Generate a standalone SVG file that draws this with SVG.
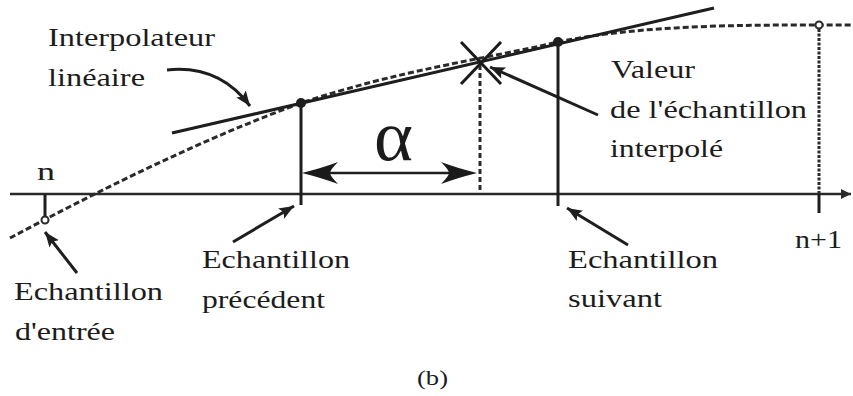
<svg xmlns="http://www.w3.org/2000/svg" width="853" height="396" viewBox="0 0 853 396">
<style>
text{font-family:"Liberation Serif","Times New Roman",serif;font-size:26px;fill:#1c1c1c}
.s{fill:none;stroke:#1e1e1e;stroke-width:3;stroke-linecap:butt}
.ax{fill:none;stroke:#2a2a2a;stroke-width:2.4}
.dash{fill:none;stroke:#2a2a2a;stroke-width:3;stroke-dasharray:6,3}
.fdash{fill:none;stroke:#2a2a2a;stroke-width:3;stroke-dasharray:3,1.5}
.arr{fill:none;stroke:#1e1e1e;stroke-width:3;marker-end:url(#ah)}
</style>
<defs>
<marker id="ah" markerWidth="18" markerHeight="14" refX="15" refY="6" orient="auto" markerUnits="userSpaceOnUse">
<path d="M0,0 L15,6 L0,12 L3,6 Z" fill="#1e1e1e"/>
</marker>
<marker id="axh" markerWidth="12" markerHeight="12" refX="10" refY="5" orient="auto" markerUnits="userSpaceOnUse">
<path d="M0,0 L10,5 L0,10 Z" fill="#2a2a2a"/>
</marker>
</defs>
<rect width="853" height="396" fill="#ffffff"/>

<g id="axis">
<line class="ax" x1="10" y1="194" x2="851" y2="194" marker-end="url(#axh)"/>
</g>

<g id="curve">
<path class="dash" d="M10,238 C100,190 200,140 301,103 C400,70 480,60 558,42 C640,25 740,25 819,25 L853,25"/>
</g>

<g id="interpolator-line">
<line class="s" x1="172" y1="133" x2="714" y2="8"/>
</g>

<g id="sample-n">
<line class="s" x1="45" y1="194" x2="45" y2="216.5"/>
<circle cx="45" cy="220" r="3.5" fill="#fff" stroke="#2a2a2a" stroke-width="2"/>
<text x="37" y="180" textLength="18" lengthAdjust="spacingAndGlyphs">n</text>
</g>

<g id="sample-prev">
<line class="s" x1="301" y1="103" x2="301" y2="205"/>
<circle cx="301" cy="103" r="5" fill="#1e1e1e"/>
</g>

<g id="sample-next">
<line class="s" x1="558" y1="42" x2="558" y2="206"/>
<circle cx="558" cy="42" r="5" fill="#1e1e1e"/>
</g>

<g id="sample-n1">
<line class="fdash" x1="819" y1="29" x2="819" y2="194"/>
<line class="s" x1="819" y1="194" x2="819" y2="213"/>
<circle cx="819" cy="25" r="3.5" fill="#fff" stroke="#2a2a2a" stroke-width="2"/>
<text x="795" y="248" textLength="47" lengthAdjust="spacingAndGlyphs">n+1</text>
</g>

<g id="interpolated">
<line class="fdash" x1="480" y1="65" x2="480" y2="194" style="stroke-dasharray:5,3"/>
<line x1="461" y1="42" x2="501" y2="84" stroke="#1a1a1a" stroke-width="3"/>
<line x1="501" y1="42" x2="461" y2="84" stroke="#1a1a1a" stroke-width="3"/>
</g>

<g id="alpha">
<line class="s" x1="318" y1="173" x2="462" y2="173" style="stroke-width:2.4"/>
<path d="M302,173 Q322,168 338,162 Q330,170 330,173 Q330,176 338,184 Q322,178 302,173 Z" fill="#1a1a1a"/>
<path d="M477,173 Q457,168 441,162 Q449,170 449,173 Q449,176 441,184 Q457,178 477,173 Z" fill="#1a1a1a"/>
<text x="374" y="160" style="font-size:72px" textLength="39" lengthAdjust="spacingAndGlyphs">α</text>
</g>

<g id="connectors">
<path class="arr" d="M167,70 C205,66 232,82 250,106"/>
<line class="arr" x1="598" y1="115" x2="490" y2="67"/>
<line class="arr" x1="77" y1="273" x2="45" y2="232"/>
<line class="arr" x1="233" y1="242" x2="294" y2="206"/>
<line class="arr" x1="628" y1="245" x2="567" y2="208"/>
</g>

<g id="label-interpolateur">
<text x="48" y="46" textLength="167" lengthAdjust="spacingAndGlyphs">Interpolateur</text>
<text x="48" y="86" textLength="97" lengthAdjust="spacingAndGlyphs">linéaire</text>
</g>

<g id="label-valeur">
<text x="611" y="78" textLength="84" lengthAdjust="spacingAndGlyphs">Valeur</text>
<text x="610" y="118" textLength="197" lengthAdjust="spacingAndGlyphs">de l'échantillon</text>
<text x="610" y="157" textLength="113" lengthAdjust="spacingAndGlyphs">interpolé</text>
</g>

<g id="label-entree">
<text x="14" y="300" textLength="149" lengthAdjust="spacingAndGlyphs">Echantillon</text>
<text x="15" y="340" textLength="100" lengthAdjust="spacingAndGlyphs">d'entrée</text>
</g>

<g id="label-precedent">
<text x="202" y="268" textLength="148" lengthAdjust="spacingAndGlyphs">Echantillon</text>
<text x="202" y="308" textLength="123" lengthAdjust="spacingAndGlyphs">précédent</text>
</g>

<g id="label-suivant">
<text x="568" y="268" textLength="150" lengthAdjust="spacingAndGlyphs">Echantillon</text>
<text x="568" y="307" textLength="94" lengthAdjust="spacingAndGlyphs">suivant</text>
</g>

<text x="417" y="385" style="font-size:21px" textLength="31" lengthAdjust="spacingAndGlyphs">(b)</text>
</svg>
